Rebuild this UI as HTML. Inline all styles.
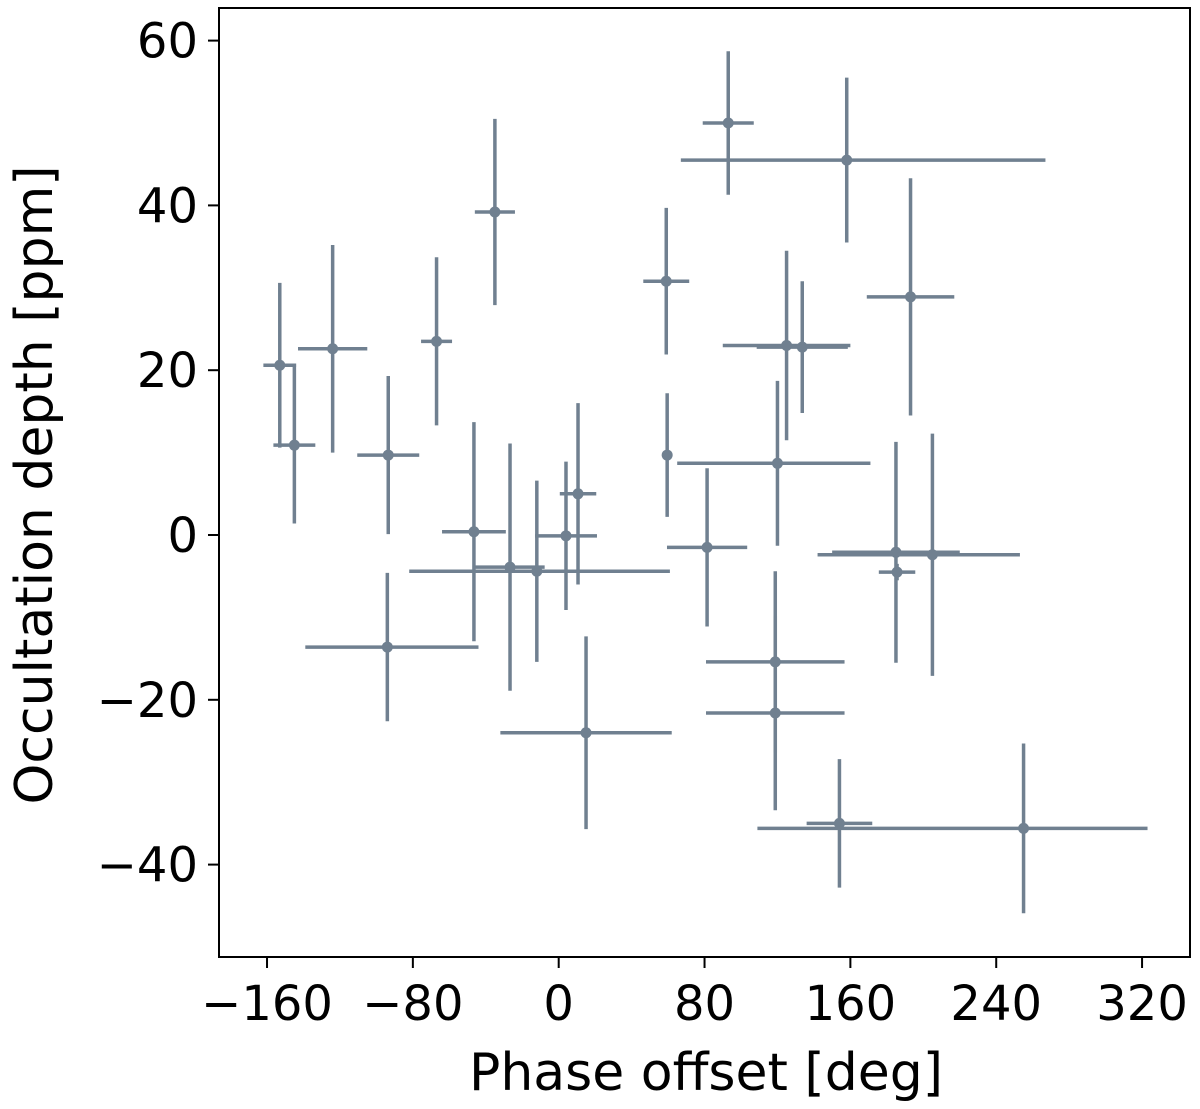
<!DOCTYPE html>
<html><head><meta charset="utf-8">
<style>
html,body{margin:0;padding:0;background:#fff;}
svg{display:block;font-family:"DejaVu Sans","Liberation Sans",sans-serif;}
</style></head>
<body>
<svg id="chart" width="1200" height="1109" viewBox="0 0 1200 1109">
  <rect x="219" y="8" width="971" height="949" fill="none" stroke="#000" stroke-width="2"/>
  <g id="marks"></g>
  <g id="xticks"></g>
  <g id="yticks"></g>
  <text x="706" y="1090" font-size="52" text-anchor="middle">Phase offset [deg]</text>
  <text transform="translate(52,485) rotate(-90)" font-size="52" text-anchor="middle">Occultation depth [ppm]</text>
</svg>
<script>
const xs    = [-153,-145,-124,-93.5,-67,-35,-94,-46.5,-26.7,-12,4,10.6,15,59,59.5,81.4,93,158,120,125,133.6,118.8,118.8,193,185,185.6,205,154,255];
const ys    = [20.6,10.9,22.6,9.7,23.5,39.2,-13.6,0.4,-3.9,-4.4,-0.1,5,-24,30.8,9.7,-1.5,50,45.5,8.7,23,22.8,-15.4,-21.6,28.9,-2.1,-4.5,-2.4,-35,-35.6];
const xLo   = [9,11.5,19,17,8.5,11,45,17.5,19,70,17,10,47,12.6,1,22,14,91,55,35,25,38,38,24,35,10,63,18,146];
const xHi   = [9,11.5,19,17,8.5,11,50,17.5,19,73,17,10,47,12.6,1,22,14,109,51,35,25,38,38,24,35,10,48,18,68];
const yErr  = [10,9.5,12.6,9.6,10.2,11.3,9,13.3,15,11,9,11,11.7,8.9,7.5,9.6,8.7,10,10,11.5,8,11,11.8,14.4,13.4,1,14.7,7.8,10.3];
const xTicks = [-160,-80,0,80,160,240,320];
const yTicks = [-40,-20,0,20,40,60];
const xTickLabels = ["\u2212160","\u221280","0","80","160","240","320"];
const yTickLabels = ["\u221240","\u221220","0","20","40","60"];

const X = v => 558.7 + v*1.823;
const Y = v => 535 - v*8.24;
const NS = "http://www.w3.org/2000/svg";
const col = "#708090";
function mk(tag, attrs, parent){const e=document.createElementNS(NS,tag);for(const k in attrs)e.setAttribute(k,attrs[k]);parent.appendChild(e);return e;}
const marks=document.getElementById('marks');
for(let i=0;i<xs.length;i++){
  const g=mk('g',{},marks);
  
  
  const h=mk('line',{x1:X(xs[i]-xLo[i]),x2:X(xs[i]+xHi[i]),y1:Y(ys[i]),y2:Y(ys[i]),stroke:col,'stroke-width':3.5},g);
  
  
  const v=mk('line',{x1:X(xs[i]),x2:X(xs[i]),y1:Y(ys[i]-yErr[i]),y2:Y(ys[i]+yErr[i]),stroke:col,'stroke-width':3.5},g);
  
  
  const c=mk('circle',{cx:X(xs[i]),cy:Y(ys[i]),r:5.5,fill:col},g);
  
  
}
const xg=document.getElementById('xticks');
xTicks.forEach((t,i)=>{
  const l=mk('line',{x1:X(t),x2:X(t),y1:957,y2:968,stroke:'#000','stroke-width':2},xg);
  
  
  const tx=mk('text',{x:X(t),y:1020,'font-size':48,'text-anchor':'middle'},xg);
  tx.textContent=xTickLabels[i];
  
  
});
const yg=document.getElementById('yticks');
yTicks.forEach((t,i)=>{
  const l=mk('line',{x1:208,x2:219,y1:Y(t),y2:Y(t),stroke:'#000','stroke-width':2},yg);
  
  
  const tx=mk('text',{x:198,y:Y(t)+17,'font-size':48,'text-anchor':'end'},yg);
  tx.textContent=yTickLabels[i];
  
  
});
</script>
</body></html>
